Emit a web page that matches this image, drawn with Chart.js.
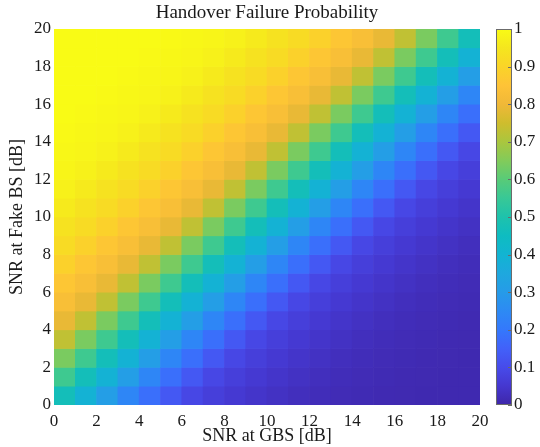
<!DOCTYPE html>
<html>
<head>
<meta charset="utf-8">
<script src="https://cdn.jsdelivr.net/npm/chart.js@4.4.0/dist/chart.umd.min.js"></script>
<style>
  html, body { margin: 0; padding: 0; background: #fff; }
  #wrap { position: relative; width: 540px; height: 447px; }
  #heat { position: absolute; left: 0; top: 0; }
  #cbar { position: absolute; left: 480px; top: 0; }
</style>
</head>
<body>
<div id="wrap">
  <canvas id="heat" width="540" height="447"></canvas>
  <canvas id="cbar" width="60" height="447"></canvas>
</div>
<script>
// SNR cells (lower edge of each 1 dB bin)
const snrGbs  = [0,1,2,3,4,5,6,7,8,9,10,11,12,13,14,15,16,17,18,19];
const snrFake = [0,1,2,3,4,5,6,7,8,9,10,11,12,13,14,15,16,17,18,19];

// handover failure probability, one row per SNR at fake BS (bottom row first)
const failProb = [
  [0.47,0.39,0.31,0.24,0.18,0.13,0.09,0.07,0.055,0.043,0.034,0.027,0.022,0.018,0.015,0.013,0.012,0.01,0.01,0.01],
  [0.56,0.47,0.39,0.31,0.24,0.18,0.13,0.09,0.07,0.055,0.043,0.034,0.027,0.022,0.018,0.015,0.013,0.012,0.01,0.01],
  [0.64,0.56,0.47,0.39,0.31,0.24,0.18,0.13,0.09,0.07,0.055,0.043,0.034,0.027,0.022,0.018,0.015,0.013,0.012,0.01],
  [0.73,0.64,0.56,0.47,0.39,0.31,0.24,0.18,0.13,0.09,0.07,0.055,0.043,0.034,0.027,0.022,0.018,0.015,0.013,0.012],
  [0.79,0.73,0.64,0.56,0.47,0.39,0.31,0.24,0.18,0.13,0.09,0.07,0.055,0.043,0.034,0.027,0.022,0.018,0.015,0.013],
  [0.83,0.79,0.73,0.64,0.56,0.47,0.39,0.31,0.24,0.18,0.13,0.09,0.07,0.055,0.043,0.034,0.027,0.022,0.018,0.015],
  [0.86,0.83,0.79,0.73,0.64,0.56,0.47,0.39,0.31,0.24,0.18,0.13,0.09,0.07,0.055,0.043,0.034,0.027,0.022,0.018],
  [0.89,0.86,0.83,0.79,0.73,0.64,0.56,0.47,0.39,0.31,0.24,0.18,0.13,0.09,0.07,0.055,0.043,0.034,0.027,0.022],
  [0.92,0.89,0.86,0.83,0.79,0.73,0.64,0.56,0.47,0.39,0.31,0.24,0.18,0.13,0.09,0.07,0.055,0.043,0.034,0.027],
  [0.94,0.92,0.89,0.86,0.83,0.79,0.73,0.64,0.56,0.47,0.39,0.31,0.24,0.18,0.13,0.09,0.07,0.055,0.043,0.034],
  [0.96,0.94,0.92,0.89,0.86,0.83,0.79,0.73,0.64,0.56,0.47,0.39,0.31,0.24,0.18,0.13,0.09,0.07,0.055,0.043],
  [0.975,0.96,0.94,0.92,0.89,0.86,0.83,0.79,0.73,0.64,0.56,0.47,0.39,0.31,0.24,0.18,0.13,0.09,0.07,0.055],
  [0.985,0.975,0.96,0.94,0.92,0.89,0.86,0.83,0.79,0.73,0.64,0.56,0.47,0.39,0.31,0.24,0.18,0.13,0.09,0.07],
  [0.99,0.985,0.975,0.96,0.94,0.92,0.89,0.86,0.83,0.79,0.73,0.64,0.56,0.47,0.39,0.31,0.24,0.18,0.13,0.09],
  [0.995,0.99,0.985,0.975,0.96,0.94,0.92,0.89,0.86,0.83,0.79,0.73,0.64,0.56,0.47,0.39,0.31,0.24,0.18,0.13],
  [1,0.995,0.99,0.985,0.975,0.96,0.94,0.92,0.89,0.86,0.83,0.79,0.73,0.64,0.56,0.47,0.39,0.31,0.24,0.18],
  [1,1,0.995,0.99,0.985,0.975,0.96,0.94,0.92,0.89,0.86,0.83,0.79,0.73,0.64,0.56,0.47,0.39,0.31,0.24],
  [1,1,1,0.995,0.99,0.985,0.975,0.96,0.94,0.92,0.89,0.86,0.83,0.79,0.73,0.64,0.56,0.47,0.39,0.31],
  [1,1,1,1,0.995,0.99,0.985,0.975,0.96,0.94,0.92,0.89,0.86,0.83,0.79,0.73,0.64,0.56,0.47,0.39],
  [1,1,1,1,1,0.995,0.99,0.985,0.975,0.96,0.94,0.92,0.89,0.86,0.83,0.79,0.73,0.64,0.56,0.47]
];

const axisTicks = [0,2,4,6,8,10,12,14,16,18,20];
const cbarTicks = [0,0.1,0.2,0.3,0.4,0.5,0.6,0.7,0.8,0.9,1];

// parula-like colormap stops
const parulaStops = [
  [0.00, 62, 38, 168], [0.05, 69, 55, 207], [0.10, 71, 75, 234], [0.15, 66, 97, 249],
  [0.20, 52, 120, 252], [0.25, 45, 138, 244], [0.30, 38, 155, 232], [0.35, 30, 168, 222],
  [0.40, 18, 180, 210], [0.45, 14, 188, 193], [0.50, 30, 194, 172], [0.55, 56, 200, 150],
  [0.60, 88, 203, 120], [0.65, 130, 203, 90], [0.70, 170, 198, 62], [0.75, 207, 189, 45],
  [0.80, 240, 184, 56], [0.85, 254, 195, 55], [0.90, 250, 212, 40], [0.95, 245, 230, 30],
  [1.00, 249, 251, 21]
];

function parula(v) {
  v = Math.max(0, Math.min(1, v));
  for (let k = 1; k < parulaStops.length; k++) {
    const b = parulaStops[k];
    if (v <= b[0]) {
      const a = parulaStops[k - 1];
      const t = (v - a[0]) / (b[0] - a[0]);
      const c = [1, 2, 3].map(n => Math.round(a[n] + (b[n] - a[n]) * t));
      return `rgb(${c[0]},${c[1]},${c[2]})`;
    }
  }
  return 'rgb(249,251,21)';
}

const serif = '"Liberation Serif", "Times New Roman", serif';
const txt = '#1a1a1a';

const cells = [];
snrFake.forEach((yv, j) => {
  snrGbs.forEach((xv, i) => {
    cells.push({ x: xv + 0.5, y: [yv, yv + 1], v: failProb[j][i] });
  });
});

new Chart(document.getElementById('heat'), {
  type: 'bar',
  data: {
    datasets: [{
      data: cells,
      backgroundColor: c => parula(c.raw.v),
      borderWidth: 0,
      barPercentage: 1,
      categoryPercentage: 1
    }]
  },
  options: {
    responsive: false,
    animation: false,
    devicePixelRatio: 1,
    layout: { padding: { left: 0, right: 60, top: 0, bottom: 0 } },
    plugins: {
      legend: { display: false },
      tooltip: { enabled: false },
      title: {
        display: true,
        text: 'Handover Failure Probability',
        fullSize: false,
        color: txt,
        font: { family: serif, size: 19, weight: 'normal' },
        padding: { top: 2, bottom: 4.2 }
      }
    },
    scales: {
      x: {
        type: 'linear', offset: false, min: 0, max: 20,
        grid: { display: false, drawTicks: false },
        border: { display: false },
        afterBuildTicks: s => { s.ticks = axisTicks.map(v => ({ value: v })); },
        ticks: { padding: 6, color: txt, font: { family: serif, size: 17 }, maxRotation: 0 },
        title: { display: true, text: 'SNR at GBS [dB]', color: txt, font: { family: serif, size: 18 }, padding: 0 },
        afterFit: s => { s.height = 42; }
      },
      y: {
        type: 'linear', min: 0, max: 20,
        grid: { display: false, drawTicks: false },
        border: { display: false },
        afterBuildTicks: s => { s.ticks = axisTicks.map(v => ({ value: v })); },
        ticks: { padding: 3, color: txt, font: { family: serif, size: 17 } },
        title: { display: true, text: 'SNR at Fake BS [dB]', color: txt, font: { family: serif, size: 18 }, padding: { top: 6, bottom: 0 } },
        afterFit: s => { s.width = 54; }
      }
    }
  }
});

const cbarFrame = {
  id: 'cbarFrame',
  afterDraw(chart) {
    const { ctx, chartArea: a, scales: { y } } = chart;
    ctx.save();
    ctx.strokeStyle = '#6b6b6b';
    ctx.lineWidth = 1;
    ctx.strokeRect(a.left + 0.5, a.top + 0.5, a.right - a.left - 1, a.bottom - a.top - 1);
    y.ticks.forEach(t => {
      const py = Math.round(y.getPixelForValue(t.value)) + 0.5;
      ctx.beginPath();
      ctx.moveTo(a.right - 4, py);
      ctx.lineTo(a.right, py);
      ctx.stroke();
    });
    ctx.restore();
  }
};

new Chart(document.getElementById('cbar'), {
  type: 'bar',
  data: {
    labels: ['p'],
    datasets: [{
      data: [[0, 1]],
      backgroundColor: c => {
        const a = c.chart.chartArea;
        if (!a) return null;
        const g = c.chart.ctx.createLinearGradient(0, a.bottom, 0, a.top);
        parulaStops.forEach(s => g.addColorStop(s[0], `rgb(${s[1]},${s[2]},${s[3]})`));
        return g;
      },
      borderWidth: 0,
      barPercentage: 1,
      categoryPercentage: 1
    }]
  },
  options: {
    responsive: false,
    animation: false,
    devicePixelRatio: 1,
    layout: { padding: { left: 16, right: 0, top: 29, bottom: 42 } },
    plugins: { legend: { display: false }, tooltip: { enabled: false } },
    scales: {
      x: { display: false },
      y: {
        position: 'right', min: 0, max: 1,
        grid: { display: false, drawTicks: false },
        border: { display: false },
        afterBuildTicks: s => { s.ticks = cbarTicks.map(v => ({ value: v })); },
        ticks: { padding: 2, color: txt, font: { family: serif, size: 17 }, callback: v => String(Number(v.toFixed(1))) },
        afterFit: s => { s.width = 28; }
      }
    }
  },
  plugins: [cbarFrame]
});
</script>
</body>
</html>
